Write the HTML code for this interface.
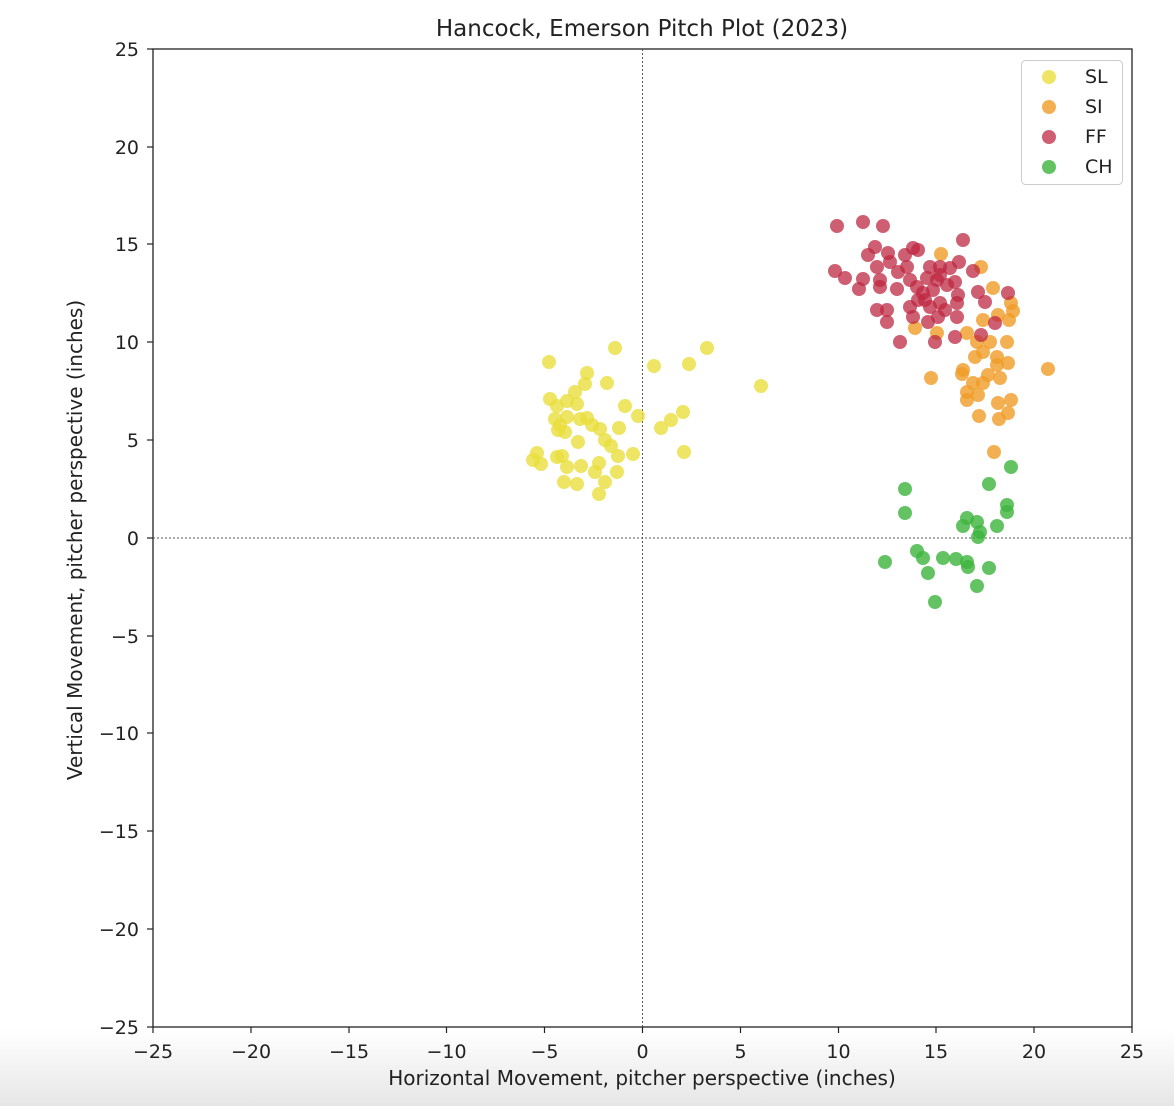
<!DOCTYPE html>
<html><head><meta charset="utf-8"><style>
html,body{margin:0;padding:0;}
body{width:1174px;height:1106px;background:linear-gradient(to bottom,#fff 0,#fff 1030px,#e6e6e6 1106px);overflow:hidden;}
svg{display:block;font-family:"DejaVu Sans","Liberation Sans",sans-serif;}
</style></head><body>
<svg width="1174" height="1106" viewBox="0 0 1174 1106">
<text x="642" y="36" font-size="23" text-anchor="middle" fill="#222">Hancock, Emerson Pitch Plot (2023)</text>
<rect x="153" y="49" width="979" height="978" fill="#fff" stroke="#222" stroke-width="1.3"/>
<line x1="153" y1="538" x2="1132" y2="538" stroke="#555" stroke-width="1" stroke-dasharray="2,2"/>
<line x1="642.5" y1="49" x2="642.5" y2="1027" stroke="#555" stroke-width="1" stroke-dasharray="2,2"/>
<g stroke="#222" stroke-width="1.2">
<line x1="153" y1="1027" x2="153" y2="1033"/><line x1="251" y1="1027" x2="251" y2="1033"/><line x1="349" y1="1027" x2="349" y2="1033"/><line x1="446.5" y1="1027" x2="446.5" y2="1033"/><line x1="544.5" y1="1027" x2="544.5" y2="1033"/><line x1="642.5" y1="1027" x2="642.5" y2="1033"/><line x1="740.5" y1="1027" x2="740.5" y2="1033"/><line x1="838.5" y1="1027" x2="838.5" y2="1033"/><line x1="936" y1="1027" x2="936" y2="1033"/><line x1="1034" y1="1027" x2="1034" y2="1033"/><line x1="1132" y1="1027" x2="1132" y2="1033"/>
<line x1="147" y1="49" x2="153" y2="49"/><line x1="147" y1="147" x2="153" y2="147"/><line x1="147" y1="244" x2="153" y2="244"/><line x1="147" y1="342" x2="153" y2="342"/><line x1="147" y1="440" x2="153" y2="440"/><line x1="147" y1="538" x2="153" y2="538"/><line x1="147" y1="636" x2="153" y2="636"/><line x1="147" y1="733" x2="153" y2="733"/><line x1="147" y1="831" x2="153" y2="831"/><line x1="147" y1="929" x2="153" y2="929"/><line x1="147" y1="1027" x2="153" y2="1027"/>
</g>
<g font-size="19" fill="#222" text-anchor="middle">
<text x="153" y="1058">−25</text><text x="251" y="1058">−20</text><text x="349" y="1058">−15</text><text x="446.5" y="1058">−10</text><text x="544.5" y="1058">−5</text><text x="642.5" y="1058">0</text><text x="740.5" y="1058">5</text><text x="838.5" y="1058">10</text><text x="936" y="1058">15</text><text x="1034" y="1058">20</text><text x="1132" y="1058">25</text>
</g>
<g font-size="19" fill="#222" text-anchor="end">
<text x="139" y="56">25</text><text x="139" y="154">20</text><text x="139" y="251">15</text><text x="139" y="349">10</text><text x="139" y="447">5</text><text x="139" y="545">0</text><text x="139" y="643">−5</text><text x="139" y="740">−10</text><text x="139" y="838">−15</text><text x="139" y="936">−20</text><text x="139" y="1034">−25</text>
</g>
<text x="642" y="1085" font-size="20" text-anchor="middle" fill="#222">Horizontal Movement, pitcher perspective (inches)</text>
<text transform="translate(82,540) rotate(-90)" font-size="20" text-anchor="middle" fill="#222">Vertical Movement, pitcher perspective (inches)</text>
<g fill="rgb(232,222,60)" fill-opacity="0.8">
<circle cx="615" cy="348" r="7"/><circle cx="549" cy="362" r="7"/><circle cx="654" cy="366" r="7"/><circle cx="689" cy="364" r="7"/><circle cx="707" cy="348" r="7"/><circle cx="761" cy="386" r="7"/><circle cx="587" cy="373" r="7"/><circle cx="585" cy="384" r="7"/><circle cx="607" cy="383" r="7"/><circle cx="575" cy="392" r="7"/><circle cx="550" cy="399" r="7"/><circle cx="567" cy="401" r="7"/><circle cx="577" cy="404" r="7"/><circle cx="557" cy="406" r="7"/><circle cx="625" cy="406" r="7"/><circle cx="638" cy="416" r="7"/><circle cx="683" cy="412" r="7"/><circle cx="671" cy="420" r="7"/><circle cx="661" cy="428" r="7"/><circle cx="555" cy="419" r="7"/><circle cx="567" cy="417" r="7"/><circle cx="580" cy="419" r="7"/><circle cx="587" cy="418" r="7"/><circle cx="592" cy="425" r="7"/><circle cx="560" cy="425" r="7"/><circle cx="558" cy="430" r="7"/><circle cx="565" cy="432" r="7"/><circle cx="600" cy="429" r="7"/><circle cx="619" cy="428" r="7"/><circle cx="578" cy="442" r="7"/><circle cx="605" cy="440" r="7"/><circle cx="611" cy="446" r="7"/><circle cx="537" cy="453" r="7"/><circle cx="533" cy="460" r="7"/><circle cx="541" cy="464" r="7"/><circle cx="557" cy="457" r="7"/><circle cx="562" cy="456" r="7"/><circle cx="618" cy="456" r="7"/><circle cx="633" cy="454" r="7"/><circle cx="684" cy="452" r="7"/><circle cx="567" cy="467" r="7"/><circle cx="581" cy="466" r="7"/><circle cx="599" cy="463" r="7"/><circle cx="595" cy="472" r="7"/><circle cx="617" cy="472" r="7"/><circle cx="564" cy="482" r="7"/><circle cx="577" cy="484" r="7"/><circle cx="605" cy="482" r="7"/><circle cx="599" cy="494" r="7"/>
</g>
<g fill="rgb(240,156,40)" fill-opacity="0.8">
<circle cx="941" cy="254" r="7"/><circle cx="981" cy="267" r="7"/><circle cx="993" cy="288" r="7"/><circle cx="1011" cy="303" r="7"/><circle cx="1013" cy="311" r="7"/><circle cx="1009" cy="320" r="7"/><circle cx="998" cy="315" r="7"/><circle cx="983" cy="320" r="7"/><circle cx="915" cy="328" r="7"/><circle cx="937" cy="333" r="7"/><circle cx="967" cy="333" r="7"/><circle cx="977" cy="342" r="7"/><circle cx="990" cy="342" r="7"/><circle cx="1007" cy="342" r="7"/><circle cx="983" cy="352" r="7"/><circle cx="975" cy="357" r="7"/><circle cx="997" cy="357" r="7"/><circle cx="997" cy="365" r="7"/><circle cx="1008" cy="363" r="7"/><circle cx="963" cy="370" r="7"/><circle cx="962" cy="374" r="7"/><circle cx="931" cy="378" r="7"/><circle cx="1048" cy="369" r="7"/><circle cx="988" cy="375" r="7"/><circle cx="1000" cy="378" r="7"/><circle cx="973" cy="383" r="7"/><circle cx="983" cy="383" r="7"/><circle cx="967" cy="392" r="7"/><circle cx="978" cy="395" r="7"/><circle cx="967" cy="400" r="7"/><circle cx="998" cy="403" r="7"/><circle cx="1011" cy="400" r="7"/><circle cx="1008" cy="413" r="7"/><circle cx="979" cy="416" r="7"/><circle cx="999" cy="419" r="7"/><circle cx="994" cy="452" r="7"/>
</g>
<g fill="rgb(190,40,65)" fill-opacity="0.75">
<circle cx="837" cy="226" r="7"/><circle cx="863" cy="222" r="7"/><circle cx="883" cy="226" r="7"/><circle cx="963" cy="240" r="7"/><circle cx="875" cy="247" r="7"/><circle cx="868" cy="255" r="7"/><circle cx="888" cy="253" r="7"/><circle cx="877" cy="267" r="7"/><circle cx="890" cy="262" r="7"/><circle cx="913" cy="248" r="7"/><circle cx="918" cy="250" r="7"/><circle cx="905" cy="255" r="7"/><circle cx="907" cy="267" r="7"/><circle cx="898" cy="272" r="7"/><circle cx="835" cy="271" r="7"/><circle cx="845" cy="278" r="7"/><circle cx="863" cy="279" r="7"/><circle cx="859" cy="289" r="7"/><circle cx="880" cy="280" r="7"/><circle cx="880" cy="287" r="7"/><circle cx="897" cy="289" r="7"/><circle cx="910" cy="280" r="7"/><circle cx="930" cy="267" r="7"/><circle cx="940" cy="267" r="7"/><circle cx="950" cy="268" r="7"/><circle cx="959" cy="262" r="7"/><circle cx="973" cy="271" r="7"/><circle cx="927" cy="278" r="7"/><circle cx="937" cy="280" r="7"/><circle cx="947" cy="285" r="7"/><circle cx="955" cy="282" r="7"/><circle cx="917" cy="287" r="7"/><circle cx="923" cy="293" r="7"/><circle cx="933" cy="290" r="7"/><circle cx="958" cy="295" r="7"/><circle cx="978" cy="292" r="7"/><circle cx="1008" cy="293" r="7"/><circle cx="985" cy="302" r="7"/><circle cx="877" cy="310" r="7"/><circle cx="887" cy="310" r="7"/><circle cx="887" cy="322" r="7"/><circle cx="910" cy="307" r="7"/><circle cx="918" cy="300" r="7"/><circle cx="930" cy="307" r="7"/><circle cx="940" cy="303" r="7"/><circle cx="957" cy="303" r="7"/><circle cx="913" cy="317" r="7"/><circle cx="928" cy="322" r="7"/><circle cx="938" cy="317" r="7"/><circle cx="957" cy="317" r="7"/><circle cx="995" cy="323" r="7"/><circle cx="900" cy="342" r="7"/><circle cx="935" cy="342" r="7"/><circle cx="955" cy="337" r="7"/><circle cx="981" cy="335" r="7"/><circle cx="940" cy="275" r="7"/><circle cx="925" cy="300" r="7"/><circle cx="945" cy="310" r="7"/>
</g>
<g fill="rgb(60,180,60)" fill-opacity="0.8">
<circle cx="1011" cy="467" r="7"/><circle cx="989" cy="484" r="7"/><circle cx="905" cy="489" r="7"/><circle cx="905" cy="513" r="7"/><circle cx="1007" cy="505" r="7"/><circle cx="1007" cy="512" r="7"/><circle cx="967" cy="518" r="7"/><circle cx="977" cy="522" r="7"/><circle cx="963" cy="526" r="7"/><circle cx="997" cy="526" r="7"/><circle cx="980" cy="532" r="7"/><circle cx="978" cy="537" r="7"/><circle cx="917" cy="551" r="7"/><circle cx="923" cy="558" r="7"/><circle cx="885" cy="562" r="7"/><circle cx="943" cy="558" r="7"/><circle cx="956" cy="559" r="7"/><circle cx="967" cy="562" r="7"/><circle cx="968" cy="567" r="7"/><circle cx="989" cy="568" r="7"/><circle cx="928" cy="573" r="7"/><circle cx="977" cy="586" r="7"/><circle cx="935" cy="602" r="7"/>
</g>
<rect x="1021.5" y="60.5" width="101" height="124" rx="4" fill="#fff" fill-opacity="0.85" stroke="#ccc"/>
<circle cx="1049" cy="77" r="7" fill="rgb(232,222,60)" fill-opacity="0.8"/>
<circle cx="1049" cy="107" r="7" fill="rgb(240,156,40)" fill-opacity="0.8"/>
<circle cx="1049" cy="137" r="7" fill="rgb(190,40,65)" fill-opacity="0.75"/>
<circle cx="1049" cy="167" r="7" fill="rgb(60,180,60)" fill-opacity="0.8"/>
<g font-size="19" fill="#222">
<text x="1085" y="83">SL</text><text x="1085" y="113">SI</text><text x="1085" y="143">FF</text><text x="1085" y="173">CH</text>
</g>
</svg>
</body></html>
